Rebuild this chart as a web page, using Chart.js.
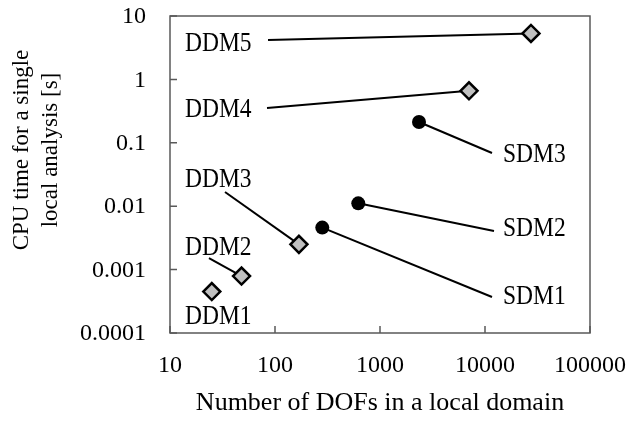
<!DOCTYPE html>
<html>
<head>
<meta charset="utf-8">
<script src="https://cdn.jsdelivr.net/npm/chart.js@4/dist/chart.umd.min.js"></script>
<style>
  html, body { margin: 0; padding: 0; background: #fff; }
  #wrap { width: 629px; height: 427px; }
</style>
</head>
<body>
<div id="wrap"><canvas id="c" width="629" height="427"></canvas></div>
<script>
// Domain decomposition (DDM) and sub-domain (SDM) timings
const ddmNames = ['DDM1', 'DDM2', 'DDM3', 'DDM4', 'DDM5'];
const ddmDofs  = [25, 48, 169, 7040, 27400];
const ddmTime  = [0.00045, 0.00079, 0.0025, 0.66, 5.3];

const sdmNames = ['SDM1', 'SDM2', 'SDM3'];
const sdmDofs  = [282, 621, 2352];
const sdmTime  = [0.0046, 0.0111, 0.213];

const xTickValues = [10, 100, 1000, 10000, 100000];
const xTickLabels = ['10', '100', '1000', '10000', '100000'];
const yTickValues = [0.0001, 0.001, 0.01, 0.1, 1, 10];
const yTickLabels = ['0.0001', '0.001', '0.01', '0.1', '1', '10'];

const xTitle = 'Number of DOFs in a local domain';
const yTitle = ['CPU time for a single', 'local analysis [s]'];

// Callouts: label anchor and leader-line start, both in data coordinates
const ddmCallouts = [
  { text: 'DDM1', at: [13.9, 0.000179], from: null },
  { text: 'DDM2', at: [13.9, 0.00219],  from: [23.5, 0.00152] },
  { text: 'DDM3', at: [13.9, 0.0259],   from: [33.4, 0.01675] },
  { text: 'DDM4', at: [13.9, 0.329],    from: [83.9, 0.354] },
  { text: 'DDM5', at: [13.9, 3.62],     from: [85.8, 4.18] }
];
const sdmCallouts = [
  { text: 'SDM1', at: [14830, 0.00037], from: [11660, 0.00037] },
  { text: 'SDM2', at: [14830, 0.00437], from: [12180, 0.00406] },
  { text: 'SDM3', at: [14830, 0.0642],  from: [11660, 0.069] }
];

const SERIF = '"Liberation Serif", "Times New Roman", serif';

const frameAndNotes = {
  id: 'frameAndNotes',
  beforeDatasetsDraw(chart) {
    const { ctx, scales: { x, y } } = chart;
    ctx.save();
    // leader lines
    ctx.strokeStyle = '#000';
    ctx.lineWidth = 2;
    const lead = (list, xs, ys) => list.forEach((c, i) => {
      if (!c.from) return;
      ctx.beginPath();
      ctx.moveTo(x.getPixelForValue(c.from[0]), y.getPixelForValue(c.from[1]));
      ctx.lineTo(x.getPixelForValue(xs[i]), y.getPixelForValue(ys[i]));
      ctx.stroke();
    });
    lead(ddmCallouts, ddmDofs, ddmTime);
    lead(sdmCallouts, sdmDofs, sdmTime);
    // callout text, slightly tall letterforms
    ctx.fillStyle = '#000';
    ctx.font = '23.5px ' + SERIF;
    ctx.textAlign = 'left';
    ctx.textBaseline = 'middle';
    [...ddmCallouts, ...sdmCallouts].forEach(c => {
      ctx.save();
      ctx.translate(x.getPixelForValue(c.at[0]), y.getPixelForValue(c.at[1]));
      ctx.scale(1, 1.15);
      ctx.fillText(c.text, 0, 0);
      ctx.restore();
    });
    ctx.restore();
  },
  afterDraw(chart) {
    const { ctx, chartArea: a, scales: { x, y } } = chart;
    ctx.save();
    // plot frame
    ctx.strokeStyle = '#595959';
    ctx.lineWidth = 1.5;
    ctx.strokeRect(a.left, a.top, a.right - a.left, a.bottom - a.top);
    // inward tick marks
    ctx.beginPath();
    xTickValues.forEach(v => {
      const px = x.getPixelForValue(v);
      ctx.moveTo(px, a.bottom);
      ctx.lineTo(px, a.bottom - 7);
    });
    yTickValues.forEach(v => {
      const py = y.getPixelForValue(v);
      ctx.moveTo(a.left, py);
      ctx.lineTo(a.left + 7, py);
    });
    ctx.stroke();
    // tick labels
    ctx.fillStyle = '#000';
    ctx.font = '24px ' + SERIF;
    ctx.textBaseline = 'middle';
    ctx.textAlign = 'right';
    yTickValues.forEach((v, i) => {
      ctx.fillText(yTickLabels[i], a.left - 24, y.getPixelForValue(v) + 1);
    });
    ctx.textAlign = 'center';
    xTickValues.forEach((v, i) => {
      ctx.fillText(xTickLabels[i], x.getPixelForValue(v), a.bottom + 33);
    });
    // axis titles
    ctx.font = '26px ' + SERIF;
    ctx.fillText(xTitle, (a.left + a.right) / 2, 403);
    ctx.font = '23px ' + SERIF;
    ctx.translate(36, 150);
    ctx.rotate(-Math.PI / 2);
    ctx.fillText(yTitle[0], 0, -14);
    ctx.fillText(yTitle[1], 0, 15);
    ctx.restore();
  }
};

new Chart(document.getElementById('c'), {
  type: 'scatter',
  data: {
    datasets: [
      {
        label: 'DDM',
        data: ddmDofs.map((v, i) => ({ x: v, y: ddmTime[i] })),
        pointStyle: 'rectRot',
        pointRadius: 8.5,
        pointHoverRadius: 8.5,
        backgroundColor: '#c0c0c0',
        borderColor: '#000',
        pointBorderWidth: 2.5
      },
      {
        label: 'SDM',
        data: sdmDofs.map((v, i) => ({ x: v, y: sdmTime[i] })),
        pointStyle: 'circle',
        pointRadius: 7,
        pointHoverRadius: 7,
        backgroundColor: '#000',
        borderColor: '#000',
        pointBorderWidth: 0
      }
    ]
  },
  options: {
    responsive: false,
    animation: false,
    events: [],
    layout: { padding: { top: 16, right: 39, left: 0, bottom: 0 } },
    plugins: { legend: { display: false }, tooltip: { enabled: false } },
    scales: {
      x: {
        type: 'logarithmic',
        min: 10,
        max: 100000,
        afterBuildTicks: s => { s.ticks = xTickValues.map(v => ({ value: v })); },
        afterFit: s => { s.height = 94; },
        grid: { display: false, drawTicks: false },
        border: { display: false },
        ticks: { display: false }
      },
      y: {
        type: 'logarithmic',
        min: 0.0001,
        max: 10,
        afterBuildTicks: s => { s.ticks = yTickValues.map(v => ({ value: v })); },
        afterFit: s => { s.width = 170; },
        grid: { display: false, drawTicks: false },
        border: { display: false },
        ticks: { display: false }
      }
    }
  },
  plugins: [frameAndNotes]
});
</script>
</body>
</html>
